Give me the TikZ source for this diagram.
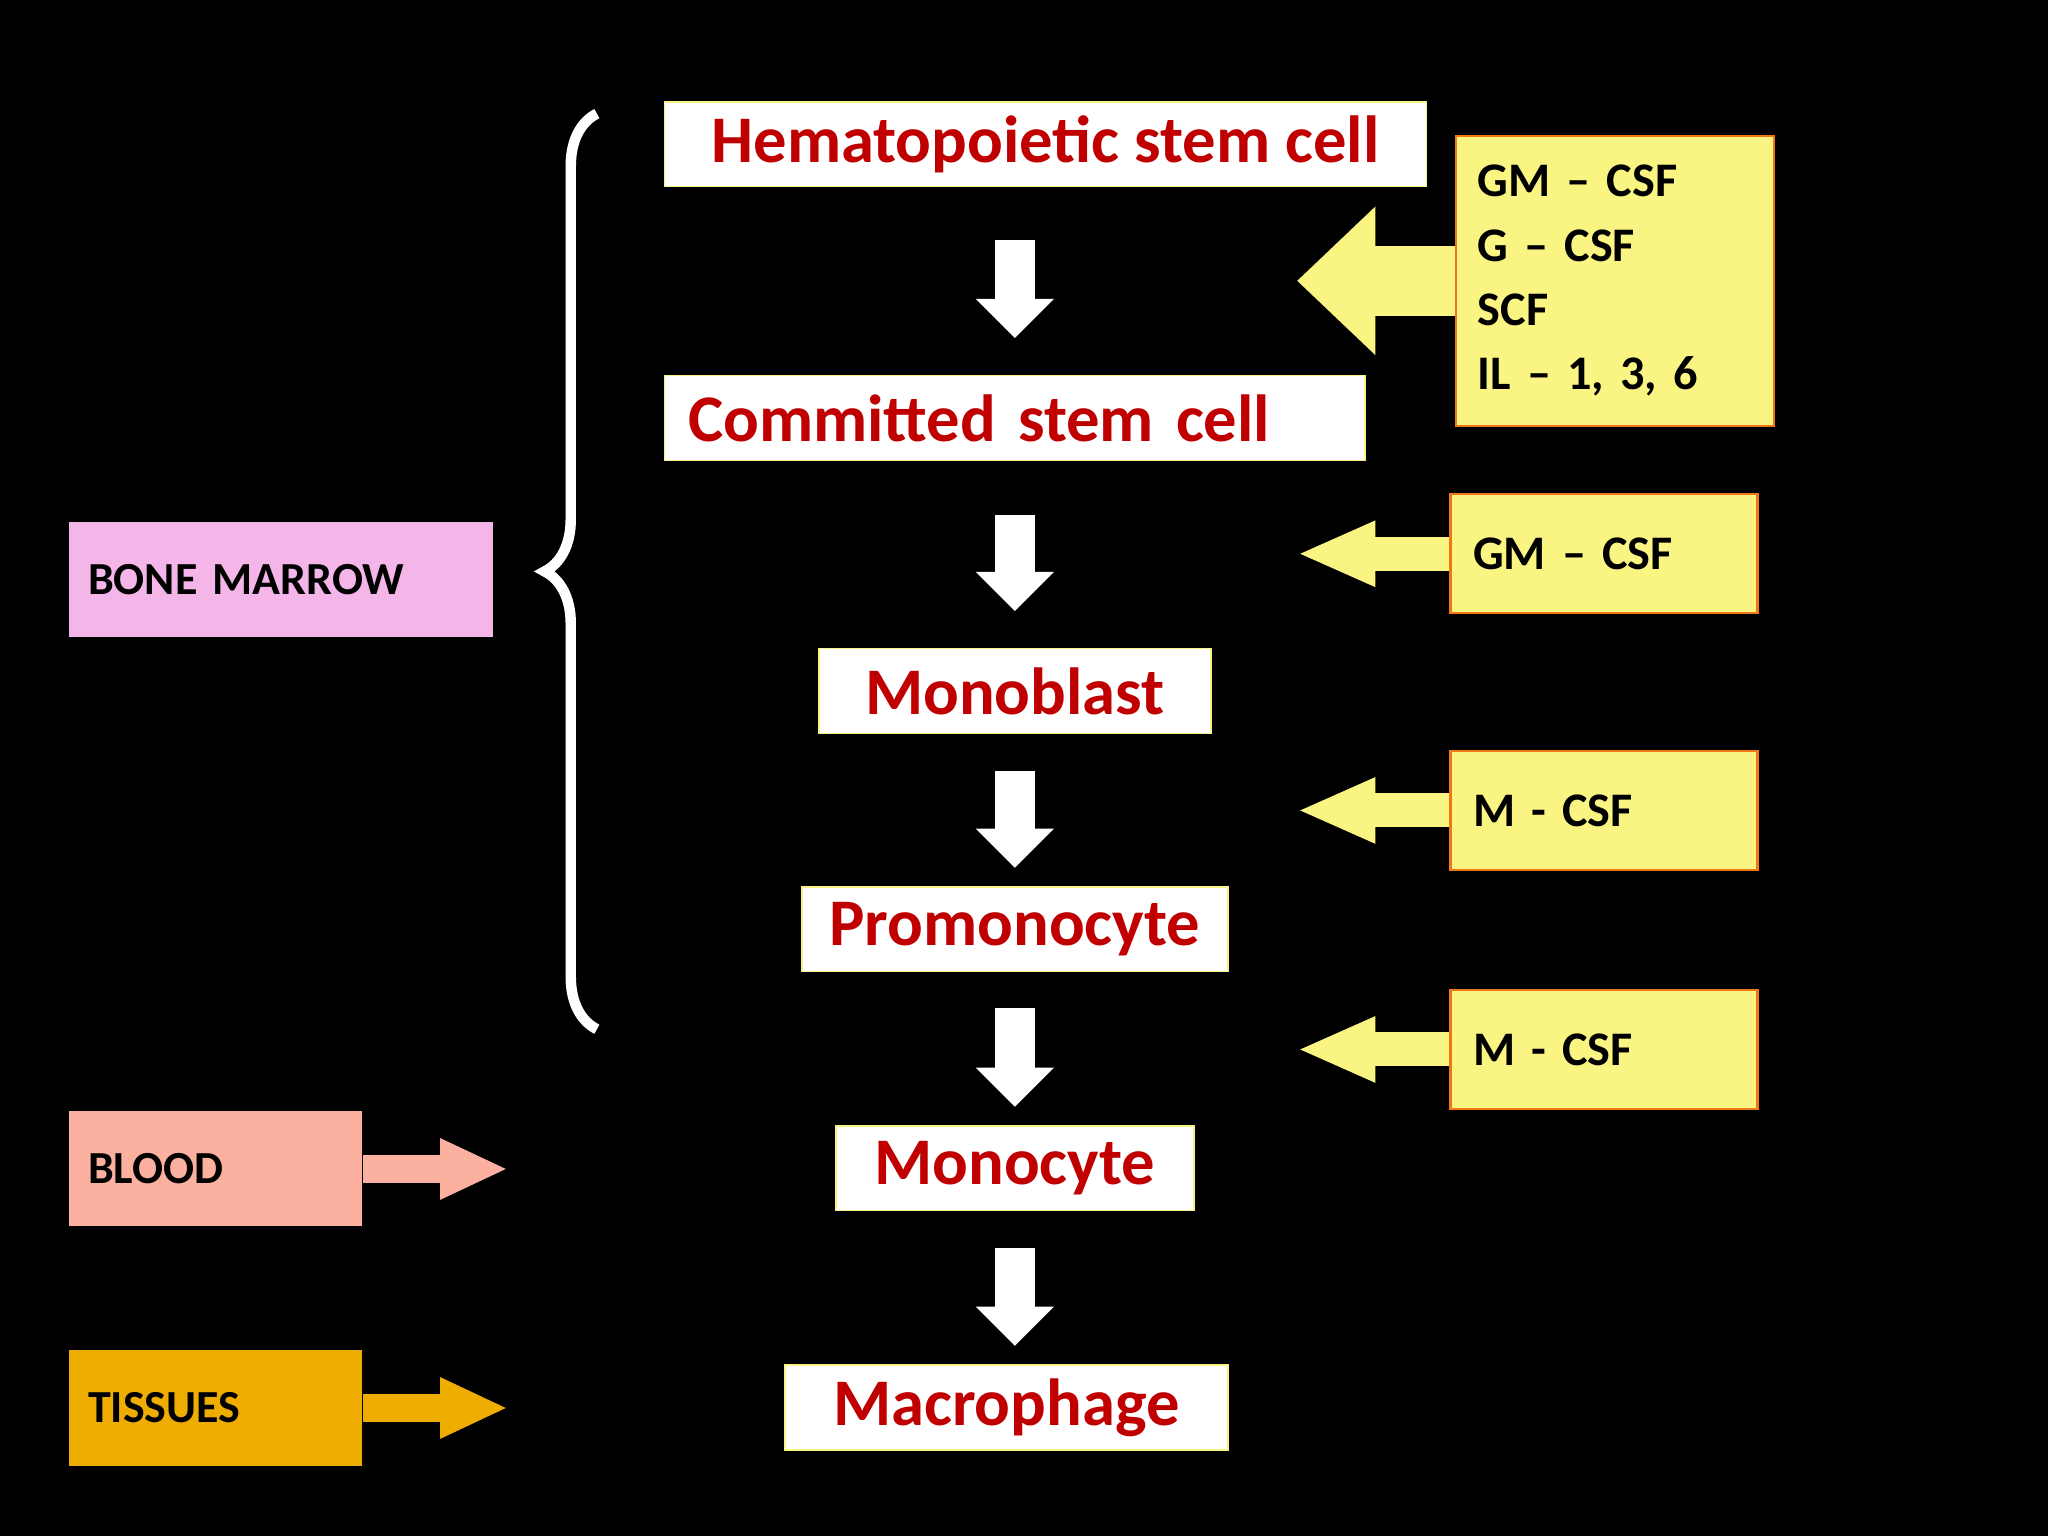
\documentclass[tikz,border=0pt]{standalone}
\usepackage{fontspec}
\setmainfont{Carlito}
\usetikzlibrary{arrows.meta,positioning,calc,decorations.pathreplacing}
\definecolor{cellred}{RGB}{192,0,0}
\definecolor{csfyellow}{RGB}{250,245,130}
\definecolor{csforange}{RGB}{240,120,20}
\definecolor{marrowpink}{RGB}{244,182,232}
\definecolor{bloodsalmon}{RGB}{251,176,160}
\definecolor{tissuegold}{RGB}{238,173,0}
\tikzset{
  cell/.style={draw=csfyellow, fill=white, line width=0.3pt, minimum height=0.65cm,
    inner sep=0pt, text=cellred, font=\bfseries\fontsize{14.5}{16}\selectfont},
  csf/.style={draw=csforange, fill=csfyellow, line width=0.5pt, minimum width=2.35cm,
    minimum height=0.91cm, inner sep=0pt, font=\bfseries\fontsize{10.5}{14}\selectfont,
    text width=2.0cm, align=left},
  site/.style={minimum height=0.88cm, inner sep=0pt, font=\bfseries\fontsize{10}{12}\selectfont,
    text width=1.95cm, align=left},
  down/.style={white, line width=0.31cm, -{Triangle[width=0.58cm,length=0.30cm]}},
  feed/.style={csfyellow, line width=0.26cm, -{Triangle[width=0.46cm,length=0.60cm]}},
  feedbig/.style={csfyellow, line width=0.54cm, -{Triangle[width=1.10cm,length=0.60cm]}},
}
\begin{document}
\begin{tikzpicture}[x=0.01cm,y=-0.01cm]
  \fill[black] (0,0) rectangle (1568,1176);
  \useasboundingbox (0,0) rectangle (1568,1176);

  % cell stages
  \node[cell, minimum width=5.83cm] (hsc) at (800.5,110.5) {Hematopoietic stem cell};
  \node[cell, minimum width=5.36cm, text width=5.0cm, align=left] (csc) at (777,320) {Committed stem cell};
  \node[cell, minimum width=3.00cm] (mob) at (777,529) {Monoblast};
  \node[cell, minimum width=3.26cm] (pro) at (777,711.5) {Promonocyte};
  \node[cell, minimum width=2.74cm] (mon) at (777,894.5) {Monocyte};
  \node[cell, minimum width=3.39cm] (mac) at (770.5,1077.5) {Macrophage};

  \coordinate (col) at (777,0);
  \draw[down, shorten <=0.40cm, shorten >=0.28cm] (hsc.south -| col) -- (csc.north -| col);
  \draw[down, shorten <=0.41cm, shorten >=0.28cm] (csc.south -| col) -- (mob.north -| col);
  \draw[down, shorten <=0.28cm, shorten >=0.14cm] (mob.south -| col) -- (pro.north -| col);
  \draw[down, shorten <=0.27cm, shorten >=0.14cm] (pro.south -| col) -- (mon.north -| col);
  \draw[down, shorten <=0.28cm, shorten >=0.14cm] (mon.south -| col) -- (mac.north -| col);

  % growth factors
  \node[csf, minimum width=2.43cm, minimum height=2.22cm, text width=2.1cm] (f1) at (1236.5,215)
    {GM -- CSF\\G -- CSF\\SCF\\IL -- 1, 3, 6};
  \node[csf] (f2) at (1228,424) {GM -- CSF};
  \node[csf] (f3) at (1228,620.5) {M - CSF};
  \node[csf] (f4) at (1228,803.5) {M - CSF};
  \coordinate (t1) at (993,215);
  \coordinate (t2) at (993,424);
  \coordinate (t3) at (993,620.5);
  \coordinate (t4) at (993,803.5);
  \draw[feedbig] (f1.west) -- (t1);
  \draw[feed] (f2.west) -- (t2);
  \draw[feed] (f3.west) -- (t3);
  \draw[feed] (f4.west) -- (t4);

  % sites
  \node[site, fill=marrowpink, minimum width=3.24cm, text width=2.95cm] (bm) at (215,444) {BONE MARROW};
  \node[site, fill=bloodsalmon, minimum width=2.24cm] (bl) at (165,895) {BLOOD};
  \node[site, fill=tissuegold, minimum width=2.24cm] (ti) at (165,1078) {TISSUES};
  \coordinate (ba) at (389,895);
  \coordinate (ta) at (389,1078);
  \draw[bloodsalmon, line width=0.22cm, -{Triangle[width=0.43cm,length=0.52cm]}] (bl.east) -- (ba);
  \draw[tissuegold, line width=0.22cm, -{Triangle[width=0.43cm,length=0.52cm]}] (ti.east) -- (ta);

  % marrow brace
  \coordinate (bb) at (457,788);
  \coordinate (bt) at (457,87);
  \draw[white, line width=0.08cm, decorate, decoration={brace, amplitude=0.40cm}] (bb) -- (bt);
\end{tikzpicture}
\end{document}
